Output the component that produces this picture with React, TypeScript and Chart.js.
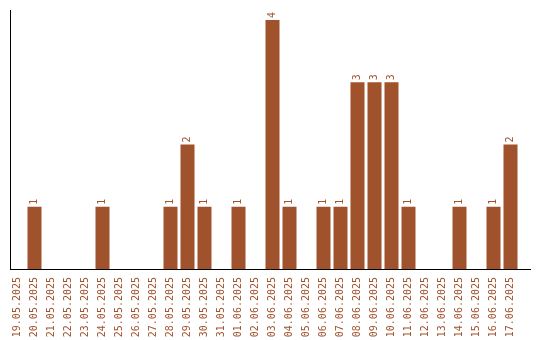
import React, { useEffect, useRef } from "react";
import { Chart, registerables } from "chart.js";

Chart.register(...registerables);

const categories: string[] = [
  "19.05.2025", "20.05.2025", "21.05.2025", "22.05.2025", "23.05.2025",
  "24.05.2025", "25.05.2025", "26.05.2025", "27.05.2025", "28.05.2025",
  "29.05.2025", "30.05.2025", "31.05.2025", "01.06.2025", "02.06.2025",
  "03.06.2025", "04.06.2025", "05.06.2025", "06.06.2025", "07.06.2025",
  "08.06.2025", "09.06.2025", "10.06.2025", "11.06.2025", "12.06.2025",
  "13.06.2025", "14.06.2025", "15.06.2025", "16.06.2025", "17.06.2025",
];

const counts: number[] = [
  0, 1, 0, 0, 0,
  1, 0, 0, 0, 1,
  2, 1, 0, 1, 0,
  4, 1, 0, 1, 1,
  3, 3, 3, 1, 0,
  0, 1, 0, 1, 2,
];

const BAR_COLOR = "#a0522d";
const TEXT_COLOR = "#a0522d";
const FONT_FAMILY = "'DejaVu Sans Mono', monospace";

const axisLinesPlugin = {
  id: "axisLines",
  afterDraw(chart: any) {
    const { ctx, chartArea } = chart;
    ctx.save();
    ctx.strokeStyle = "#000000";
    ctx.lineWidth = 1;
    ctx.beginPath();
    ctx.moveTo(Math.round(chartArea.left) + 1.5, chartArea.top);
    ctx.lineTo(Math.round(chartArea.left) + 1.5, Math.round(chartArea.bottom));
    ctx.moveTo(Math.round(chartArea.left) + 1, Math.round(chartArea.bottom) + 0.5);
    ctx.lineTo(chartArea.right + 12, Math.round(chartArea.bottom) + 0.5);
    ctx.stroke();
    ctx.restore();
  },
};

const valueLabelsPlugin = {
  id: "valueLabels",
  afterDatasetsDraw(chart: any) {
    const { ctx } = chart;
    const meta = chart.getDatasetMeta(0);
    const data = chart.data.datasets[0].data as number[];
    ctx.save();
    ctx.fillStyle = TEXT_COLOR;
    ctx.font = `10px ${FONT_FAMILY}`;
    ctx.textAlign = "left";
    ctx.textBaseline = "middle";
    meta.data.forEach((bar: any, i: number) => {
      const v = data[i];
      if (!v) return;
      ctx.save();
      ctx.translate(bar.x - 0.5, bar.y - 2);
      ctx.rotate(-Math.PI / 2);
      ctx.fillText(String(v), 0, 0);
      ctx.restore();
    });
    ctx.restore();
  },
};

export default function App() {
  const canvasRef = useRef<HTMLCanvasElement | null>(null);

  useEffect(() => {
    if (!canvasRef.current) return;
    const chart = new Chart(canvasRef.current, {
      type: "bar",
      data: {
        labels: categories,
        datasets: [
          {
            data: counts,
            backgroundColor: BAR_COLOR,
            borderWidth: 0,
            barPercentage: 14 / 17,
            categoryPercentage: 1,
          },
        ],
      },
      options: {
        responsive: false,
        animation: false,
        devicePixelRatio: 1,
        layout: { padding: { left: 9, right: 21, top: 10, bottom: 0 } },
        plugins: {
          legend: { display: false },
          tooltip: { enabled: false },
        },
        scales: {
          x: {
            grid: { display: false, drawTicks: false },
            border: { display: false },
            ticks: {
              color: TEXT_COLOR,
              font: { family: FONT_FAMILY, size: 10 },
              minRotation: 90,
              maxRotation: 90,
              autoSkip: false,
              padding: 8,
            },
            afterFit: (scale: any) => {
              scale.height = 71;
            },
          },
          y: {
            display: false,
            min: 0,
            max: 4.16,
          },
        },
      },
      plugins: [axisLinesPlugin, valueLabelsPlugin],
    });
    return () => chart.destroy();
  }, []);

  return (
    <div style={{ position: "absolute", left: 0, top: 0, width: 540, height: 340, background: "#ffffff" }}>
      <canvas ref={canvasRef} width={540} height={340} style={{ display: "block" }} />
    </div>
  );
}
